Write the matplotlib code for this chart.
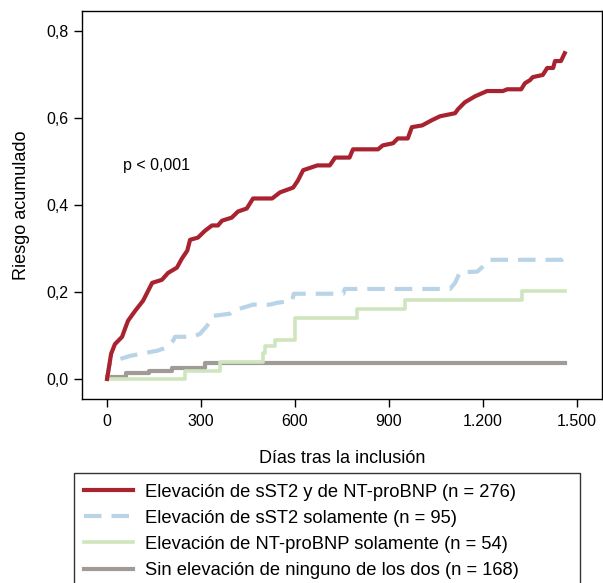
import matplotlib
matplotlib.use('Agg')
from matplotlib import pyplot as plt
from matplotlib.ticker import FuncFormatter

plt.rcParams['font.family'] = ['Liberation Sans', 'DejaVu Sans']

# cumulative risk curves (days, risk)
both_days = [0, 13, 25, 48, 57, 67, 90, 115, 144, 175, 195, 223, 239, 256, 265, 290, 313, 335,
             354, 367, 398, 418, 446, 466, 527, 552, 594, 609, 626, 671, 711, 728, 774, 785, 865,
             880, 913, 928, 960, 973, 1006, 1037, 1063, 1111, 1120, 1142, 1175, 1213, 1264, 1277,
             1322, 1334, 1350, 1359, 1391, 1405, 1424, 1430, 1449, 1461]
both_risk = [0.0, 0.058, 0.08, 0.097, 0.115, 0.134, 0.157, 0.18, 0.221, 0.228, 0.244, 0.256,
             0.277, 0.295, 0.32, 0.325, 0.341, 0.353, 0.353, 0.364, 0.371, 0.385, 0.392, 0.415,
             0.415, 0.429, 0.44, 0.456, 0.48, 0.491, 0.491, 0.509, 0.509, 0.528, 0.528, 0.537,
             0.542, 0.553, 0.553, 0.579, 0.583, 0.595, 0.604, 0.611, 0.62, 0.636, 0.65, 0.662,
             0.662, 0.666, 0.666, 0.68, 0.687, 0.694, 0.699, 0.715, 0.715, 0.731, 0.731, 0.749]

sst2_days = [0, 8, 19, 73, 160, 185, 211, 217, 274, 297, 319, 338, 392, 403, 466, 520, 542, 591,
             596, 754, 759, 1095, 1111, 1126, 1182, 1202, 1223, 1452, 1461]
sst2_risk = [0.0, 0.035, 0.041, 0.053, 0.065, 0.071, 0.088, 0.097, 0.097, 0.104, 0.122, 0.145,
             0.15, 0.157, 0.171, 0.171, 0.175, 0.18, 0.196, 0.196, 0.207, 0.207, 0.221, 0.245,
             0.247, 0.26, 0.274, 0.274, 0.28]

bnp_days = [0, 249, 361, 498, 504, 527, 536, 600, 798, 951, 1325, 1461]
bnp_risk = [0.0, 0.018, 0.039, 0.06, 0.076, 0.076, 0.09, 0.141, 0.161, 0.182, 0.203, 0.203]

none_days = [0, 61, 135, 208, 313, 1461]
none_risk = [0.005, 0.014, 0.018, 0.025, 0.036, 0.036]

labels = ['Elevación de sST2 y de NT-proBNP (n = 276)',
          'Elevación de sST2 solamente (n = 95)',
          'Elevación de NT-proBNP solamente (n = 54)',
          'Sin elevación de ninguno de los dos (n = 168)']

fig = plt.figure(figsize=(6.03, 5.83), dpi=100)
ax = fig.add_axes([82 / 603, 184 / 583, 520 / 603, 388 / 583])

ax.plot(none_days, none_risk, drawstyle='steps-post', color='#a19b97', lw=3, label=labels[3], zorder=2)
ax.plot(bnp_days, bnp_risk, drawstyle='steps-post', color='#cfe5bd', lw=2.6, label=labels[2], zorder=2)
ax.plot(sst2_days, sst2_risk, color='#b9d4e7', lw=3, dashes=(4.2, 2.4),
        label=labels[1], zorder=3)
ax.plot(both_days, both_risk, color='#a8232f', lw=3, label=labels[0], zorder=4)

ax.set_xlim(-80, 1580)
ax.set_ylim(-0.046, 0.846)
ax.set_xticks([0, 300, 600, 900, 1200, 1500])
ax.set_yticks([0, 0.2, 0.4, 0.6, 0.8])
ax.xaxis.set_major_formatter(FuncFormatter(lambda v, p: f'{int(v):,}'.replace(',', '.')))
ax.yaxis.set_major_formatter(FuncFormatter(lambda v, p: f'{v:.1f}'.replace('.', ',')))
ax.tick_params(direction='out', length=6, width=1, labelsize=11.5)
ax.tick_params(axis='x', pad=5)
ax.tick_params(axis='y', pad=3.5)
for s in ax.spines.values():
    s.set_linewidth(1)

ax.set_xlabel('Días tras la inclusión', fontsize=13, labelpad=15)
ax.set_ylabel('Riesgo acumulado', fontsize=13, labelpad=12)
ax.text(50, 0.48, 'p < 0,001', fontsize=11.5)

h, l = ax.get_legend_handles_labels()
leg = fig.legend(h[::-1], l[::-1], loc='upper left',
                 bbox_to_anchor=(74 / 603, 1 - 474 / 583, 506 / 603, 0.001), mode='expand',
                 borderaxespad=0, fontsize=13.2, frameon=True, fancybox=False, handlelength=2.65,
                 handletextpad=0.65, labelspacing=0.5, borderpad=0.55)
leg.get_frame().set_edgecolor('black')
leg.get_frame().set_linewidth(1)

fig.savefig('out.png', dpi=100)
